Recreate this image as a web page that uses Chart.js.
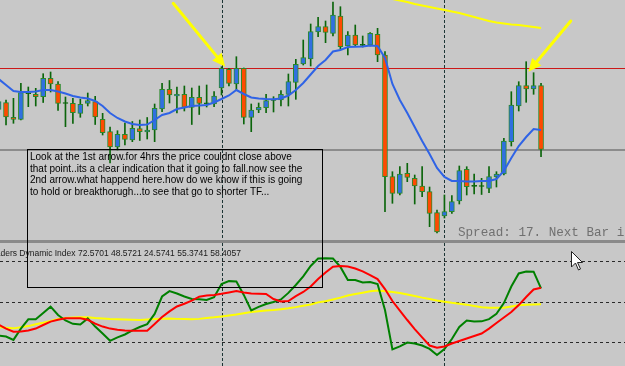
<!DOCTYPE html>
<html>
<head>
<meta charset="utf-8">
<script src="https://cdn.jsdelivr.net/npm/chart.js@4.4.1/dist/chart.umd.min.js"></script>
<style>
  body { margin: 0; background: #c8c8c8; }
  #wrap { position: relative; width: 625px; height: 366px; overflow: hidden; background: #c8c8c8; }
  #mainChart { position: absolute; left: 0; top: 0; }
  #tdiChart { position: absolute; left: 0; top: 243px; }
  #divider { position: absolute; left: 0; top: 240px; width: 625px; height: 3px; background: #8a8a8a; border-bottom: 0; }
  #note {
    position: absolute; left: 27px; top: 149px; width: 292px; height: 136px;
    border: 1px solid #000; padding: 1px 0 0 2px; box-sizing: content-box;
    font: 10px "Liberation Sans", Arial, sans-serif; line-height: 11.7px; color: #000;
  }
  #tdiTitle {
    position: absolute; left: -12px; top: 248px; white-space: nowrap;
    font: 8.5px "Liberation Sans", Arial, sans-serif; line-height: 10px; color: #1a1a1a;
  }
  #spread {
    position: absolute; left: 458px; top: 226px; white-space: nowrap;
    font: 12.6px "Liberation Mono", monospace; line-height: 14px; color: #707070;
  }
  #cursor { position: absolute; left: 571px; top: 251px; }
</style>
</head>
<body>
<div id="wrap">
  <canvas id="mainChart" width="625" height="240"></canvas>
  <div id="divider"></div>
  <canvas id="tdiChart" width="625" height="123"></canvas>
  <div id="spread">Spread: 17. Next Bar in</div>
  <div id="tdiTitle">Traders Dynamic Index 72.5701 48.5721 24.5741 55.3741 58.4057</div>
  <div id="note">Look at the 1st arrow.for 4hrs the price couldnt close above<br>that point..its a clear indication that it going to fall.now see the<br>2nd arrow.what happend here.how do we know if this is going<br>to hold or breakthorugh...to see that go to shorter TF...</div>
  <svg id="cursor" width="13" height="21" viewBox="0 0 13 21">
    <polygon points="0.5,0.5 0.5,16 4.5,12 7.5,19 9.5,18 6.5,11.5 11.5,11.5" fill="#fff" stroke="#222" stroke-width="1"/>
  </svg>
</div>
<script>
// 4h bars, first one is partly cut off at the left edge (bar -1)
const firstBar = -1;

const openP = [130.7, 137.3, 122.7, 120.5, 146.5, 145.7, 143.3, 161.7, 156, 136.7, 136.7, 126.7, 136.7, 138.3, 120.7, 108.5, 93, 105.7, 100, 111.5, 108, 110, 131, 150.7, 144, 145.7, 132.7, 142.7, 137, 136, 152, 170.7, 156, 171.7, 122.7, 130, 132.3, 139.5, 140, 145.7, 157.7, 176, 181, 208, 213.3, 206.7, 224, 194, 205, 194.7, 195, 205.7, 185, 63.3, 46.7, 66.7, 61.7, 54, 48.3, 27.3, 24, 28.3, 39, 70.7, 53.7, 53.5, 51.7, 63, 66, 98.3, 134, 154.3, 151, 154.3];
const highP = [142, 140, 141.7, 156.7, 153, 151.7, 166.3, 168, 158.5, 143, 141.7, 140.8, 147, 143.7, 126.7, 113, 109.3, 117, 118.5, 120, 122.5, 136, 156.7, 159.5, 153, 154, 152, 154, 155, 148.3, 173.3, 171.7, 183.3, 172, 136, 137, 145.7, 143.3, 149.3, 166, 180.7, 200, 216, 222.7, 219, 238, 233.3, 208.3, 215, 204, 207.3, 211.7, 188.3, 68.3, 73.3, 76.7, 65, 73.3, 53, 30, 45, 44.3, 74, 73.3, 66, 61.7, 73.3, 68.3, 101.7, 148.3, 158.3, 178.3, 167.3, 156.7];
const lowP = [128, 115, 116.7, 120, 133.3, 134, 137.5, 148, 129.7, 113.3, 116.7, 122.7, 134, 115.5, 105, 77, 90, 95, 98.3, 99.5, 101, 98.3, 128.3, 137, 127, 129, 115.5, 125.5, 133, 133.3, 145, 154, 150, 116, 108.3, 127.3, 127.3, 128, 134, 134, 140.7, 175, 174, 203.3, 197.3, 204, 190.7, 185, 193.3, 193, 194, 178.3, 28.3, 36.7, 45, 58.3, 36, 43.3, 13.3, 7, 22, 26.5, 36, 45, 46, 45.5, 47.3, 53, 65, 94, 129, 137.7, 145.7, 83.3];
const closeP = [138.3, 123, 120.7, 147.3, 146.3, 143.3, 161.7, 156, 136.7, 136.5, 127.3, 135.7, 139.3, 123, 107.3, 93, 105.7, 100.7, 111.7, 108.3, 110, 131.7, 150.7, 145, 145.7, 132.7, 142.7, 136.5, 136.2, 144, 171.7, 156.7, 171.7, 122.7, 130, 132.7, 139.3, 140, 145.7, 158.3, 175.7, 182.3, 208.3, 213.3, 207.7, 225, 193.3, 205, 195, 195, 206.7, 185, 63.3, 46.7, 66, 62.7, 54, 48.3, 26.7, 8, 28.3, 38.3, 69.3, 53.3, 54, 53.8, 63.3, 66, 99, 135, 154.3, 151, 154.3, 90.7];

// moving averages on the price pane
const fastMa = [161, 155, 149, 148, 148, 148.5, 150, 150, 148.5, 146.5, 144, 142.5, 141.5, 139, 134, 127, 122, 118.5, 116, 115, 115.5, 120, 125, 127, 131, 132.5, 134, 134.5, 135, 137.5, 141, 144.5, 150, 146, 142.5, 141.5, 141, 140.7, 141.5, 144.5, 150, 157, 165.5, 174, 180, 188.5, 190, 193, 193.3, 193.5, 194.5, 194, 182, 156, 140, 127, 113, 99, 86, 72, 63, 59, 59, 58.5, 58.5, 59, 59, 61, 69, 82, 94, 103, 111, 110];
const slowMaFirst = 50;
const slowMa = [245, 243, 241, 239.5, 238, 236, 234.5, 233, 231.5, 230, 228.5, 227, 225, 223, 221, 219, 217.5, 216.5, 215.5, 215, 214, 213, 212];

// Traders Dynamic Index
const tdiGreen = [35.0, 34.6, 33.1, 38.1, 42.2, 42.2, 45.0, 47.8, 44.1, 41.7, 40.2, 39.9, 42.6, 39.0, 35.9, 32.7, 34.2, 35.5, 37.3, 38.8, 40.1, 44.6, 52.3, 54.7, 53.6, 52.3, 51.2, 51.1, 50.8, 52.0, 57.8, 59.1, 58.9, 53.0, 46.1, 47.7, 49.0, 49.9, 51.0, 53.9, 57.4, 61.2, 65.8, 69.1, 69.2, 69.1, 65.4, 59.6, 59.6, 58.5, 58.7, 57.8, 46.3, 28.9, 30.2, 31.9, 31.5, 30.6, 29.1, 26.4, 29.1, 33.5, 38.8, 41.7, 41.2, 41.3, 42.3, 44.6, 49.4, 56.7, 62.5, 63.4, 63.3, 55.9];
const tdiRed = [39.8, 38.1, 36.7, 36.8, 37.3, 38.1, 39.7, 41.2, 42.0, 42.7, 42.7, 42.7, 42.0, 40.3, 39.0, 38.1, 37.6, 37.3, 37.2, 37.2, 37.2, 40.1, 43.2, 45.7, 47.9, 49.1, 50.5, 52.2, 52.7, 53.0, 53.5, 54.1, 54.7, 54.1, 53.6, 53.5, 53.4, 51.2, 50.1, 50.3, 52.5, 54.3, 56.7, 60.0, 62.9, 65.5, 65.8, 65.6, 64.7, 63.4, 61.8, 60.0, 55.6, 50.3, 46.1, 41.9, 37.9, 34.2, 30.6, 29.6, 30.2, 31.5, 32.6, 33.7, 34.8, 35.9, 38.1, 40.6, 43.0, 45.4, 48.5, 52.1, 55.4, 56.2];
const tdiYellow = [38.7, 38.5, 38.2, 38.7, 39.2, 40.0, 40.7, 41.5, 42.3, 42.8, 43.0, 43.1, 43.1, 42.8, 42.6, 42.3, 42.2, 42.1, 42.0, 41.9, 42.1, 42.3, 42.5, 42.6, 42.4, 42.3, 42.2, 42.4, 42.8, 43.1, 43.5, 43.9, 44.3, 44.9, 45.4, 45.8, 46.1, 46.3, 46.7, 47.1, 47.6, 48.2, 48.8, 49.7, 50.2, 51.0, 51.8, 52.7, 53.4, 54.0, 54.6, 54.9, 54.6, 54.3, 53.8, 53.2, 52.5, 51.8, 51.2, 50.5, 50.0, 49.5, 49.1, 48.7, 48.1, 47.5, 47.3, 47.3, 47.3, 47.9, 48.4, 48.6, 48.8, 48.9];
const tdiLevels = [68, 50, 32];

// chart objects
const priceLines = [172.5, 90];          // red resistance, grey support
const separatorBars = [29, 59];          // period separators
const arrows = [
    { from: [22.5, 236.7], to: [29.5, 173.3] },
    { from: [76.0, 219], to: [70.3, 168.3] }
];

// visible window (bar units) and pane ranges
const xRange = [-0.81, 83.3];
const priceRange = [0, 240];
const tdiRange = [21.55, 75.97];

const BULL = '#3070e0', BEAR = '#ff4a00', DOJI = '#0b650b';
const BORDER = '#2a8a2a', WICK = '#0b650b';

const barX = i => firstBar + i;
const isDoji = i => Math.abs(openP[i] - closeP[i]) < 1;

const guides = {
    id: 'guides',
    beforeDatasetsDraw(chart, args, opts) {
        const { ctx, chartArea: a, scales: { x, y } } = chart;
        ctx.save();
        ctx.lineWidth = 1;
        (opts.levels || []).forEach((v, k) => {
            const st = opts.levelStyles[k] || opts.levelStyles[0];
            const py = Math.round(y.getPixelForValue(v)) + (st.width % 2 ? 0.5 : 0);
            ctx.strokeStyle = st.color;
            ctx.lineWidth = st.width;
            ctx.setLineDash(st.dash || []);
            ctx.beginPath();
            ctx.moveTo(a.left, py);
            ctx.lineTo(a.right, py);
            ctx.stroke();
        });
        ctx.strokeStyle = '#1c3434';
        ctx.lineWidth = 1;
        ctx.setLineDash([3, 2]);
        separatorBars.forEach(b => {
            const px = Math.round(x.getPixelForValue(b)) + 0.5;
            ctx.beginPath();
            ctx.moveTo(px, a.top);
            ctx.lineTo(px, a.bottom);
            ctx.stroke();
        });
        ctx.restore();
    }
};

const arrowPlugin = {
    id: 'arrows',
    afterDatasetsDraw(chart) {
        const { ctx, scales: { x, y } } = chart;
        ctx.save();
        ctx.strokeStyle = '#ffff00';
        ctx.fillStyle = '#ffff00';
        ctx.lineWidth = 3;
        ctx.lineCap = 'round';
        arrows.forEach(ar => {
            const x1 = x.getPixelForValue(ar.from[0]), y1 = y.getPixelForValue(ar.from[1]);
            const x2 = x.getPixelForValue(ar.to[0]), y2 = y.getPixelForValue(ar.to[1]);
            const len = Math.hypot(x2 - x1, y2 - y1);
            const ux = (x2 - x1) / len, uy = (y2 - y1) / len;
            const head = 13, half = 6;
            const bx = x2 - ux * head, by = y2 - uy * head;
            ctx.beginPath();
            ctx.moveTo(x1, y1);
            ctx.lineTo(bx, by);
            ctx.stroke();
            ctx.beginPath();
            ctx.moveTo(x2, y2);
            ctx.lineTo(bx - uy * half, by + ux * half);
            ctx.lineTo(bx + uy * half, by - ux * half);
            ctx.closePath();
            ctx.fill();
        });
        ctx.restore();
    }
};

const baseOptions = {
    responsive: false,
    animation: false,
    events: [],
    devicePixelRatio: 1,
    layout: { padding: 0 }
};

function renderPriceChart() {
    const ctx = document.getElementById('mainChart');
    const bodyFill = openP.map((o, i) => isDoji(i) ? DOJI : (closeP[i] > o ? BULL : BEAR));
    const bodyLine = openP.map((o, i) => isDoji(i) ? DOJI : BORDER);
    new Chart(ctx, {
        type: 'bar',
        data: {
            datasets: [
                {
                    type: 'line',
                    data: fastMa.map((v, i) => ({ x: barX(i), y: v })),
                    borderColor: '#2f63e6',
                    borderWidth: 2,
                    pointRadius: 0,
                    tension: 0,
                    order: 0
                },
                {
                    type: 'line',
                    data: slowMa.map((v, i) => ({ x: slowMaFirst + i, y: v })),
                    borderColor: '#ffff00',
                    borderWidth: 2,
                    pointRadius: 0,
                    tension: 0,
                    order: 0
                },
                {
                    data: openP.map((o, i) => ({ x: barX(i), y: [o, closeP[i]] })),
                    backgroundColor: bodyFill,
                    borderColor: bodyLine,
                    borderWidth: 1,
                    borderSkipped: false,
                    barThickness: 5,
                    minBarLength: 1,
                    grouped: false,
                    order: 1
                },
                {
                    data: lowP.map((l, i) => ({ x: barX(i), y: [l, highP[i]] })),
                    backgroundColor: WICK,
                    barThickness: 1,
                    grouped: false,
                    order: 2
                }
            ]
        },
        options: {
            ...baseOptions,
            scales: {
                x: { type: 'linear', min: xRange[0], max: xRange[1], offset: false, display: false },
                y: { type: 'linear', min: priceRange[0], max: priceRange[1], display: false }
            },
            plugins: {
                legend: { display: false },
                tooltip: { enabled: false },
                guides: {
                    levels: priceLines,
                    levelStyles: [
                        { color: '#cc1818', width: 1 },
                        { color: '#8c8c8c', width: 2 }
                    ]
                }
            }
        },
        plugins: [guides, arrowPlugin]
    });
}

function renderTdiChart() {
    const ctx = document.getElementById('tdiChart');
    const line = (arr, color, order) => ({
        data: arr.map((v, i) => ({ x: barX(i), y: v })),
        borderColor: color,
        borderWidth: 2,
        pointRadius: 0,
        tension: 0,
        order: order
    });
    new Chart(ctx, {
        type: 'line',
        data: {
            datasets: [
                line(tdiYellow, '#ffff00', 2),
                line(tdiGreen, '#008000', 1),
                line(tdiRed, '#ff0000', 0)
            ]
        },
        options: {
            ...baseOptions,
            scales: {
                x: { type: 'linear', min: xRange[0], max: xRange[1], display: false },
                y: { type: 'linear', min: tdiRange[0], max: tdiRange[1], display: false }
            },
            plugins: {
                legend: { display: false },
                tooltip: { enabled: false },
                guides: {
                    levels: tdiLevels,
                    levelStyles: [{ color: '#2a2a2a', width: 1, dash: [3, 3] }]
                }
            }
        },
        plugins: [guides]
    });
}

renderPriceChart();
renderTdiChart();
</script>
</body>
</html>
